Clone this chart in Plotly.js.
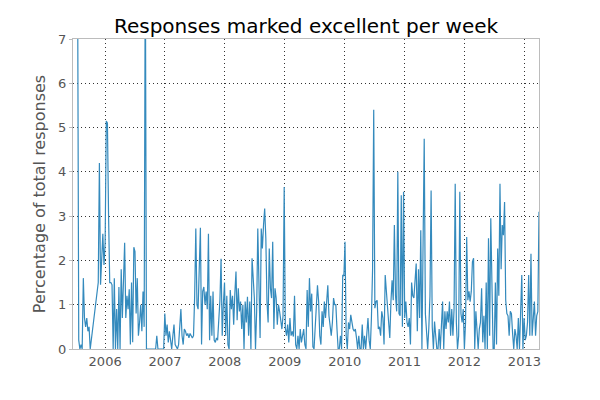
<!DOCTYPE html>
<html>
<head>
<meta charset="utf-8">
<script src="https://cdn.plot.ly/plotly-3.0.1.min.js"></script>
<style>
  html, body { margin: 0; padding: 0; background: #fff; }
  #chart { width: 600px; height: 400px; }
</style>
</head>
<body>
<div id="chart"></div>
<script>
/* Weekly share of responses rated "excellent".
   Weeks run from 2005-06-19; null = weeks with no data (line bridges them). */

const FIRST_WEEK = "2005-06-19";

const pct = [
  30, 22, 15, 11, 8.5, 0.2, 0.0, 0.1, 0.0, 1.6,
  0.7, 0.5, 0.7, 0.4, 0.5, 0.0, null, null, null, null,
  null, null, 1.5, 4.2, 1.45, 2.3, 2.6, 1.9, 2.4, 5.15,
  5.1, 3.0, 1.5, 1.5, 1.45, 0.0, 1.6, 0.0, 0.9, 0.0,
  1.4, 0.0, 1.8, 0.7, 1.45, 2.4, 0.7, 1.2, 0.9, 1.35,
  0.1, 1.5, 0.15, 2.3, 2.2, 0.8, 1.6, 0.3, 0.6, 1.0,
  0.4, 1.3, 0.5, 9.0, 0, 0, 0, 0, 0, 0,
  0, 0, 0, 0.3, 0, 0, 0, 0, 0, 0,
  0.8, 0.3, 0.55, 0.15, 0.4, 0.2, 0.0, 0.3, 0.55, 0.1,
  0.05, 0.0, 0.1, 0.4, 0.9, 0.3, 0.1, 0.45, 0.4, 0.3,
  0.35, 0.25, 0.35, 0.3, 0.25, 0.3, 1.2, 2.72, 1.0, 0.9,
  1.8, 2.74, 0.1, 1.3, 1.4, 1.0, 1.3, 0.9, 2.6, 0.2,
  1.2, 0.3, 1.3, 0.2, 0.15, 0.25, 0.2, 0.6, 1.1, 2.04,
  0.3, 1.0, 1.5, 0.3, 1.2, 0.1, 0.0, 1.33, 0.9, 1.2,
  0.55, 1.25, 1.75, 0.65, 1.37, 0.85, 1.07, 0.45, 1.0, 0.0,
  1.07, 0.6, 1.18, 0.3, 1.07, 0.0, 2.05, 1.6, 1.15, 0.0,
  0.85, 2.72, 1.4, 0.25, 2.72, 2.27, 2.8, 3.17, 2.5, 1.07,
  0.6, 2.27, 1.37, 1.15, 2.42, 0.45, 1.37, 1.15, 0.55, 1.0,
  0.85, 0.6, 0.45, 0.75, 3.66, 0.47, 0.3, 0.55, 0.15, 0.7,
  0.3, 0.4, 0.28, 1.2, 0.1, 0.0, 0.3, 0.0, 0.45, 0.15,
  0.3, 0.45, 0.1, 0.0, 1.33, 0.5, 1.6, 0.85, 1.25, 0.05,
  0.0, 0.5, 1.07, 1.44, 1.07, 0.3, 0.1, 0.85, 0.5, 1.07,
  0.7, 1.15, 1.44, 0.75, 0.45, 0.3, 0.6, 1.15, 1.0, 1.0,
  0.45, 0.0, 0.0, 0.3, 0.0, 1.67, 1.65, 2.42, 0.3, 0.0,
  0.6, 0.45, 0.77, 0.55, 0.45, 0.4, 0.45, 0.25, 0.0, 0.3,
  0.0, 0.0, 0.55, 0.0, 0.3, 0.0, 0.5, 0.7, 0.2, 0.0,
  0.7, 1.8, 5.4, 0.92, 1.07, 1.1, 0.45, 0.5, 0.3, 0.85,
  0.7, 0.1, 1.67, 1.3, 0.85, 0.5, 0.25, 1.07, 1.55, 1.1,
  2.8, 1.2, 0.85, 4.0, 0.8, 0.75, 3.47, 0.5, 3.55, 0.7,
  1.07, 0.6, 0.5, 0.7, 0.1, 1.5, 1.2, 1.15, 1.5, 1.93,
  0.4, 1.8, 0.7, 2.68, 0.0, 1.8, 4.75, 0.8, 0.47, 0.0,
  0.47, 1.2, 3.58, 0.5, 0.0, 0.62, 0.3, 0.0, 0.0, 0.45,
  0.0, 0.55, 1.07, 0.0, 0.85, 0.45, 0.85, 0.6, 1.07, 0.3,
  0.9, 0.3, 0.9, 3.73, 0.6, 0.0, 0.3, 3.55, 0.8, 0.6,
  0.9, 0.0, 0.6, 2.53, 1.1, 1.3, 1.07, 1.3, 1.97, 2.05,
  0.0, 0.85, 0.3, 0.0, 0.45, 0.6, 1.37, 0.15, 0.75, 0.0,
  1.5, 0.0, 2.5, 0.3, 2.95, 1.2, 0.0, 0.0, 1.5, 0.1,
  2.27, 1.2, 3.73, 1.8, 2.8, 2.57, 3.32, 1.1, 0.8, 0.75,
  0.3, 0.85, 0.8, 0.35, 0.0, 0.45, 0.3, 0.0, 0.7, 0.0,
  1.0, 1.67, 0.0, 0.7, 0.2, 0.3, 0.6, 1.67, 0.3, 2.15,
  0.3, 0.7, 1.07, 0.3, 0.75, 0.85, 3.1,
];

const tickYears = ["2006", "2007", "2008", "2009", "2010", "2011", "2012", "2013"];
const yTicks = [0, 1, 2, 3, 4, 5, 6, 7];

// one date per value, a week apart
function weekDates(first, n) {
  const [y, m, d] = first.split("-").map(Number);
  const out = [];
  for (let i = 0; i < n; i++) {
    out.push(new Date(Date.UTC(y, m - 1, d + 7 * i)).toISOString().slice(0, 10));
  }
  return out;
}

const weeks = weekDates(FIRST_WEEK, pct.length);

const FONT = "DejaVu Sans, sans-serif";
const GRID = {
  showgrid: true,
  gridcolor: "#333",
  griddash: "1px,3px",
  gridwidth: 1,
  showline: true,
  mirror: true,
  linecolor: "#bcbcbc",
  linewidth: 1,
  zeroline: false,
  tickfont: { family: FONT, size: 13, color: "#555" },
};

const trace = {
  type: "scatter",
  mode: "lines",
  x: weeks,
  y: pct,
  connectgaps: true,
  line: { color: "#348ABD", width: 1.2 },
  hoverinfo: "x+y",
};

const layout = {
  width: 600,
  height: 400,
  paper_bgcolor: "#fff",
  plot_bgcolor: "#fff",
  margin: { l: 73, r: 61, t: 39, b: 51 },
  showlegend: false,
  font: { family: FONT, color: "#555" },
  title: {
    text: "Responses marked excellent per week",
    font: { family: FONT, size: 20, color: "#000" },
    x: 0.51,
    xanchor: "center",
    y: 0.935,
    yanchor: "middle",
  },
  xaxis: Object.assign({}, GRID, {
    type: "date",
    range: [weeks[0], weeks[weeks.length - 1]],
    tickvals: tickYears.map((yr) => yr + "-01-01"),
    ticktext: tickYears,
    ticks: "",
  }),
  yaxis: Object.assign({}, GRID, {
    range: [0, 7],
    tickvals: yTicks,
    ticks: "outside",
    ticklen: 3,
    tickcolor: "#bcbcbc",
    title: {
      text: "Percentage of total responses",
      font: { family: FONT, size: 16, color: "#555" },
      standoff: 8,
    },
  }),
};

Plotly.newPlot("chart", [trace], layout, { displayModeBar: false, staticPlot: true });
</script>
</body>
</html>
